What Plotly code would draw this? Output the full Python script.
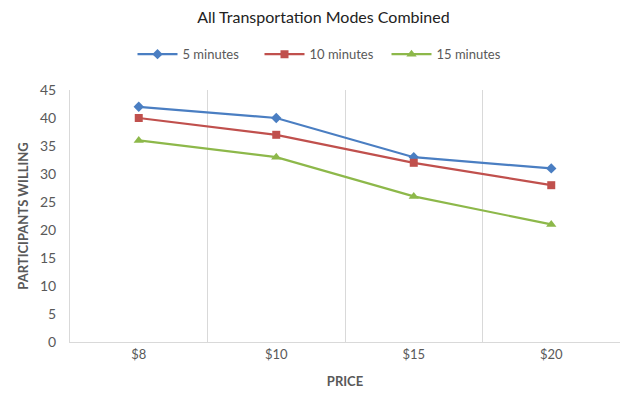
import plotly.graph_objects as go

prices = ["$8", "$10", "$15", "$20"]
five_min = [42, 40, 33, 31]
ten_min = [40, 37, 32, 28]
fifteen_min = [36, 33, 26, 21]
y_ticks = [0, 5, 10, 15, 20, 25, 30, 35, 40, 45]

series = [
    ("5 minutes", five_min, "#4A7EC2", "diamond", 8),
    ("10 minutes", ten_min, "#C0504D", "square", 8),
    ("15 minutes", fifteen_min, "#8DB84A", "triangle-up", 9),
]

fig = go.Figure()
for name, vals, color, symbol, size in series:
    fig.add_trace(go.Scatter(
        x=prices, y=vals, name=name, mode="lines+markers",
        line=dict(color=color, width=2.2),
        marker=dict(symbol=symbol, size=size, color=color),
    ))

font_family = "Lato, 'Open Sans', sans-serif"
fig.update_layout(
    width=622, height=395,
    margin=dict(l=70, r=2, t=90, b=53),
    paper_bgcolor="white", plot_bgcolor="white",
    font=dict(family=font_family, color="#595959", size=12),
    title=dict(text="All Transportation Modes Combined", x=0.52, xanchor="center",
               y=0.955, yanchor="middle",
               font=dict(size=16, color="#222222", family=font_family)),
    legend=dict(orientation="h", x=0.46, xanchor="center", y=1.142, yanchor="middle",
                font=dict(size=13, color="#595959"), itemwidth=40,
                entrywidth=72, entrywidthmode="pixels",
                bgcolor="rgba(0,0,0,0)"),
    showlegend=True,
)
fig.update_xaxes(
    type="category", range=[-0.5, 3.5], tickson="boundaries",
    showgrid=True, gridcolor="#D9D9D9", gridwidth=1,
    showline=True, linecolor="#D9D9D9", ticks="",
    title=dict(text="<b>PRICE</b>", font=dict(size=13, color="#595959"), standoff=16),
    tickfont=dict(size=13, color="#595959"),
)
fig.update_yaxes(
    range=[0, 45], tickvals=y_ticks, showgrid=False, zeroline=False,
    showline=True, linecolor="#D9D9D9", ticks="", ticklabelstandoff=10,
    title=dict(text="<b>PARTICIPANTS WILLING</b>", font=dict(size=13, color="#595959"), standoff=8),
    tickfont=dict(size=14, color="#595959"),
)

fig.write_html("out.html")
